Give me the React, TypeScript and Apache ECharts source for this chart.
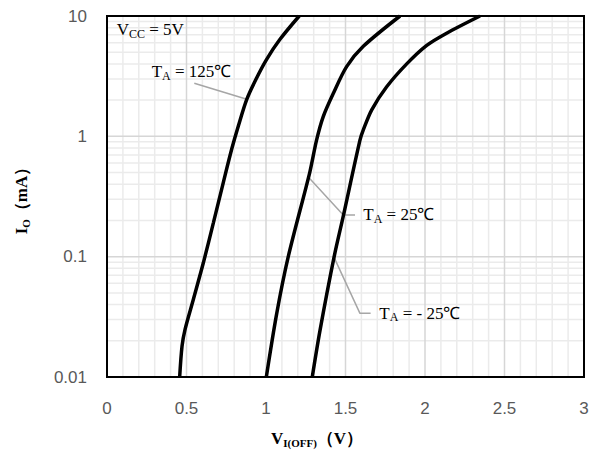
import React, { useEffect, useRef } from "react";
import * as echarts from "echarts";

// ---- data ----
const xTicks = [0, 0.5, 1, 1.5, 2, 2.5, 3];
const yTickValues = [0.01, 0.1, 1, 10];
const yTickLabels = ["0.01", "0.1", "1", "10"];
const yMinorMultipliers = [2, 3, 4, 5, 6, 7, 8, 9];
const xMinorPerMajor = 5;

// T_A = 125 °C
const curve125V = [0.457, 0.472, 0.491, 0.543, 0.606, 0.669, 0.731, 0.784, 0.826, 0.879, 0.937, 1.004, 1.088, 1.209];
const curve125I = [0.01, 0.0181, 0.0249, 0.0441, 0.0889, 0.191, 0.411, 0.78, 1.22, 2.03, 2.98, 4.36, 6.4, 10];

// T_A = 25 °C
const curve25V = [1.002, 1.067, 1.14, 1.275, 1.318, 1.36, 1.423, 1.507, 1.612, 1.843];
const curve25I = [0.01, 0.0335, 0.1, 0.5, 0.93, 1.46, 2.27, 3.8, 5.6, 10];

// T_A = -25 °C
const curveM25V = [1.291, 1.34, 1.428, 1.486, 1.591, 1.612, 1.665, 1.759, 1.885, 2.011, 2.136, 2.346];
const curveM25I = [0.01, 0.0245, 0.099, 0.217, 0.93, 1.13, 1.66, 2.58, 4.0, 5.7, 7.2, 10];

const leader125 = [[0.549, 2.76], [0.879, 2.03]];
const leader25 = [[1.266, 0.46], [1.486, 0.222], [1.56, 0.222]];
const leaderM25 = [[1.428, 0.0986], [1.591, 0.0338], [1.658, 0.0338]];

// annotation texts: [main, subscript, rest], anchored (left, middle) at data coords
const annotations = [
  { main: "V", sub: "CC", rest: " = 5V", at: [0.061, 7.66] },
  { main: "T", sub: "A", rest: " = 125℃", at: [0.281, 3.44] },
  { main: "T", sub: "A", rest: " = 25℃", at: [1.612, 0.222] },
  { main: "T", sub: "A", rest: " = - 25℃", at: [1.713, 0.0338] },
];

const xTitle = { main: "V", sub: "I(OFF)", rest: "（V）" };
const yTitle = { main: "I", sub: "O", rest: "（mA）" };

const zip = (xs: number[], ys: number[]) => xs.map((x, i) => [x, ys[i]]);

export default function App() {
  const ref = useRef<HTMLDivElement>(null);
  useEffect(() => {
    document.body.style.margin = "0";
    const chart = echarts.init(ref.current!, undefined, { renderer: "svg" });
    const serif = "'Liberation Serif', 'Times New Roman', serif";
    const sans = "'Liberation Sans', Arial, sans-serif";
    const xMin = xTicks[0];
    const xMax = xTicks[xTicks.length - 1];
    const yMin = yTickValues[0];
    const yMax = yTickValues[yTickValues.length - 1];

    // grid line segments (decoration), separated by nulls
    const xMinorSeg: any[] = [];
    const xMajorSeg: any[] = [];
    for (let i = 0; i < xTicks.length; i++) {
      xMajorSeg.push([xTicks[i], yMin], [xTicks[i], yMax], null);
      if (i < xTicks.length - 1) {
        const step = (xTicks[i + 1] - xTicks[i]) / xMinorPerMajor;
        for (let k = 1; k < xMinorPerMajor; k++) {
          const x = xTicks[i] + step * k;
          xMinorSeg.push([x, yMin], [x, yMax], null);
        }
      }
    }
    const yMinorSeg: any[] = [];
    const yMajorSeg: any[] = [];
    for (let i = 0; i < yTickValues.length; i++) {
      yMajorSeg.push([xMin, yTickValues[i]], [xMax, yTickValues[i]], null);
      if (i < yTickValues.length - 1) {
        yMinorMultipliers.forEach((m) => {
          const y = yTickValues[i] * m;
          yMinorSeg.push([xMin, y], [xMax, y], null);
        });
      }
    }
    const gridSeries = (data: any[], color: string, z: number) => ({
      type: "line",
      data,
      symbol: "none",
      silent: true,
      connectNulls: false,
      z,
      lineStyle: { color, width: 1.5 },
    });

    const curveStyle = { color: "#000", width: 3.5 };
    const leaderStyle = { color: "#a6a6a6", width: 1.5 };
    chart.setOption({
      animation: false,
      grid: { left: 107, right: 11, top: 16, bottom: 76 },
      xAxis: {
        type: "value",
        min: xMin,
        max: xMax,
        interval: xTicks[1] - xTicks[0],
        axisLine: { show: false },
        axisTick: { show: false },
        axisLabel: { margin: 23, color: "#595959", fontSize: 17, fontFamily: sans },
        splitLine: { show: false },
      },
      yAxis: {
        type: "log",
        logBase: 10,
        min: yMin,
        max: yMax,
        axisLine: { show: false },
        axisTick: { show: false },
        axisLabel: {
          margin: 20,
          color: "#595959",
          fontSize: 17,
          fontFamily: sans,
          formatter: (v: number) => {
            const idx = yTickValues.findIndex((t) => Math.abs(Math.log10(t) - Math.log10(v)) < 1e-6);
            return idx >= 0 ? yTickLabels[idx] : "";
          },
        },
        splitLine: { show: false },
      },
      series: [
        gridSeries(xMinorSeg, "#ebebeb", 1),
        gridSeries(yMinorSeg, "#ebebeb", 1),
        gridSeries(xMajorSeg, "#d6d6d6", 2),
        gridSeries(yMajorSeg, "#d6d6d6", 2),
        ...[leader125, leader25, leaderM25].map((d) => ({
          type: "line",
          data: d,
          symbol: "none",
          silent: true,
          z: 3,
          lineStyle: leaderStyle,
        })),
        ...[
          zip(curve125V, curve125I),
          zip(curve25V, curve25I),
          zip(curveM25V, curveM25I),
        ].map((d) => ({
          type: "line",
          data: d,
          symbol: "none",
          smooth: 0.3,
          silent: true,
          z: 4,
          lineStyle: curveStyle,
        })),
      ],
    });

    const p0 = chart.convertToPixel({ gridIndex: 0 }, [xMin, yMin]) as number[];
    const p1 = chart.convertToPixel({ gridIndex: 0 }, [xMax, yMax]) as number[];

    const annRich = {
      m: { fontSize: 17, fontFamily: serif, color: "#1a1a1a", lineHeight: 20, verticalAlign: "middle" },
      s: { fontSize: 12, fontFamily: serif, color: "#1a1a1a", lineHeight: 14, padding: [10, 0, 0, 0], verticalAlign: "bottom" },
    };
    const titleRich = {
      m: { fontSize: 17, fontFamily: serif, fontWeight: "bold", color: "#595959", lineHeight: 20, verticalAlign: "middle" },
      s: { fontSize: 11, fontFamily: serif, fontWeight: "bold", color: "#595959", lineHeight: 13, padding: [10, 0, 0, 0], verticalAlign: "bottom" },
    };

    const graphics: any[] = annotations.map((a) => {
      const p = chart.convertToPixel({ gridIndex: 0 }, a.at) as number[];
      return {
        type: "text",
        x: p[0],
        y: p[1],
        z: 10,
        style: {
          text: `{m|${a.main}}{s|${a.sub}}{m|${a.rest}}`,
          rich: annRich,
          align: "left",
          verticalAlign: "middle",
        },
      };
    });
    graphics.push({
      type: "text",
      x: 317,
      y: 438,
      z: 10,
      style: {
        text: `{m|${xTitle.main}}{s|${xTitle.sub}}{m|${xTitle.rest}}`,
        rich: titleRich,
        align: "center",
        verticalAlign: "middle",
      },
    });
    graphics.push({
      type: "text",
      x: 21,
      y: (p0[1] + p1[1]) / 2,
      rotation: Math.PI / 2,
      z: 10,
      style: {
        text: `{m|${yTitle.main}}{s|${yTitle.sub}}{m|${yTitle.rest}}`,
        rich: titleRich,
        align: "center",
        verticalAlign: "middle",
      },
    });
    graphics.push({
      type: "rect",
      z: 20,
      shape: { x: p0[0], y: p1[1], width: p1[0] - p0[0], height: p0[1] - p1[1] },
      style: { fill: "transparent", stroke: "#000", lineWidth: 2 },
      silent: true,
    });
    chart.setOption({ graphic: graphics });

    return () => chart.dispose();
  }, []);
  return <div ref={ref} style={{ width: 595, height: 453 }} />;
}
